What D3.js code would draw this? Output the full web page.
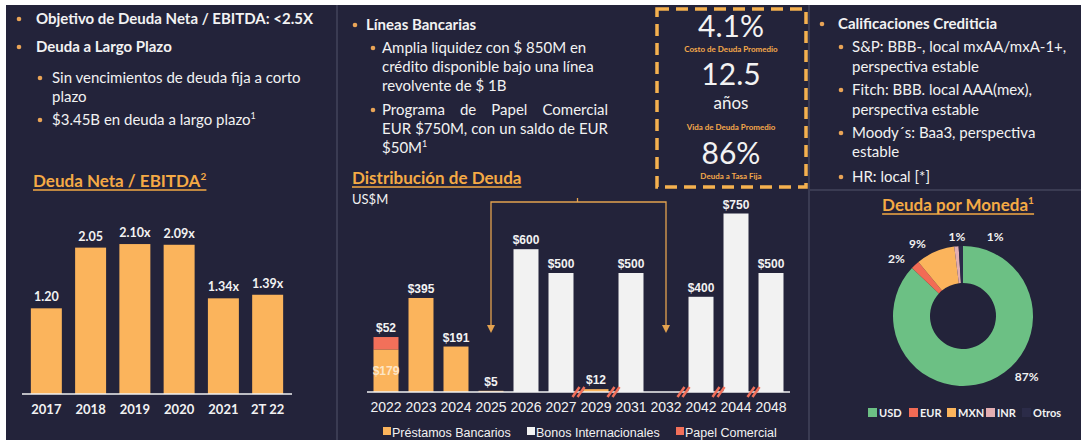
<!DOCTYPE html>
<html>
<head>
<meta charset="utf-8">
<script src="https://cdn.jsdelivr.net/npm/d3@7"></script>
<style>
  body { margin: 0; background: #fff; }
  svg { display: block; }
  text { font-family: Lato, "Open Sans", sans-serif; }
  .arial { font-family: "Liberation Sans", Arial, sans-serif; }
</style>
</head>
<body>
<svg id="chart" width="1081" height="440"></svg>
<script>
// ---- data ----
var ratioYears = ["2017", "2018", "2019", "2020", "2021", "2T 22"];
var ratioValues = [1.20, 2.05, 2.10, 2.09, 1.34, 1.39];
var ratioLabels = ["1.20", "2.05", "2.10x", "2.09x", "1.34x", "1.39x"];

var debtYears = ["2022", "2023", "2024", "2025", "2026", "2027", "2029", "2031", "2032", "2042", "2044", "2048"];
var bankLoans = [179, 395, 191, 5, 0, 0, 12, 0, 0, 0, 0, 0];
var intlBonds = [0, 0, 0, 0, 600, 500, 0, 500, 0, 400, 750, 500];
var commercialPaper = [52, 0, 0, 0, 0, 0, 0, 0, 0, 0, 0, 0];
var breakBefore = ["2029", "2031", "2042", "2044", "2048"];
var debtSeries = ["Préstamos Bancarios", "Bonos Internacionales", "Papel Comercial"];

var currencies = ["USD", "EUR", "MXN", "INR", "Otros"];
var currencyShare = [87, 2, 9, 1, 1];

var kpiValues = ["4.1%", "12.5", "86%"];
var kpiLabels = ["Costo de Deuda Promedio", "Vida de Deuda Promedio", "Deuda a Tasa Fija"];

var bg = "#23233a";
var orange = "#fbb45c";
var titleOrange = "#f5aa45";
var red = "#f2705a";
var white = "#f2f2f2";

var svg = d3.select("#chart");

// background panels
svg.append("rect").attr("x", 6).attr("y", 5).attr("width", 1075).attr("height", 435).attr("fill", bg);
svg.append("line").attr("x1", 337).attr("x2", 337).attr("y1", 5).attr("y2", 440)
    .attr("stroke", "#3a3b52").attr("stroke-width", 2);
svg.append("line").attr("x1", 809).attr("x2", 809).attr("y1", 5).attr("y2", 440)
    .attr("stroke", "#3a3b52").attr("stroke-width", 2);
svg.append("line").attr("x1", 809).attr("x2", 1081).attr("y1", 190).attr("y2", 190)
    .attr("stroke", "#3a3b52").attr("stroke-width", 2);

// bullet text helpers
function bullet(x, y, r) {
    svg.append("circle").attr("cx", x).attr("cy", y).attr("r", r || 2.3).attr("fill", "#e9a457");
}
function line(x, y, str, opts) {
    opts = opts || {};
    var t = svg.append("text").attr("x", x).attr("y", y + 5)
        .attr("fill", white)
        .attr("font-size", opts.size || 15)
        .attr("font-weight", opts.bold ? 700 : 400);
    t.append("tspan").text(str);
    if (opts.sup) {
        t.append("tspan").attr("font-size", 9).attr("dy", -6).text(opts.sup);
    }
    if (opts.justify) {
        // spread the extra room over the word gaps
        var natural = t.node().getComputedTextLength();
        var gaps = str.split(" ").length - 1;
        t.attr("word-spacing", (opts.justify - natural) / gaps);
    }
    return t;
}
function title(x, y, str, sup, anchor) {
    var t = svg.append("text").attr("x", x).attr("y", y)
        .attr("fill", titleOrange).attr("font-size", 17).attr("font-weight", 700)
        .attr("text-anchor", anchor || "start");
    t.append("tspan").text(str);
    if (sup) t.append("tspan").attr("font-size", 10).attr("dy", -7).text(sup);
    var bb = t.node().getBBox();
    svg.append("line").attr("x1", bb.x).attr("x2", bb.x + bb.width)
        .attr("y1", y + 3).attr("y2", y + 3)
        .attr("stroke", titleOrange).attr("stroke-width", 1.5);
}

// ---- left panel text ----
bullet(19, 19); line(36, 19, "Objetivo de Deuda Neta / EBITDA: <2.5X", { bold: true });
bullet(19, 47); line(36, 47, "Deuda a Largo Plazo", { bold: true });
bullet(40, 78); line(52, 78, "Sin vencimientos de deuda fija a corto");
line(52, 97, "plazo");
bullet(40, 120); line(52, 120, "$3.45B en deuda a largo plazo", { sup: "1" });
title(33, 187, "Deuda Neta / EBITDA", "2");

// ---- left bar chart ----
var x1 = d3.scaleBand().domain(ratioYears).range([22, 292]).paddingInner(0.3).paddingOuter(0.2);
var y1 = d3.scaleLinear().domain([0, 2.5]).range([394, 215.5]);

svg.append("g").selectAll("rect").data(ratioValues).enter().append("rect")
    .attr("x", function (d, i) { return x1(ratioYears[i]); })
    .attr("y", function (d) { return y1(d); })
    .attr("width", x1.bandwidth())
    .attr("height", function (d) { return y1(0) - y1(d); })
    .attr("fill", orange);

svg.append("g").selectAll("text").data(ratioValues).enter().append("text")
    .attr("x", function (d, i) { return x1(ratioYears[i]) + x1.bandwidth() / 2; })
    .attr("y", function (d) { return y1(d) - 7; })
    .attr("text-anchor", "middle").attr("fill", white)
    .attr("font-size", 12.5).attr("font-weight", 700)
    .text(function (d, i) { return ratioLabels[i]; });

var ax1 = svg.append("g").attr("transform", "translate(0,394)")
    .call(d3.axisBottom(x1).tickSize(0).tickPadding(11));
ax1.select(".domain").attr("stroke", white).attr("stroke-width", 1.5)
    .attr("d", "M0,0H270").attr("transform", "translate(22,0)");
ax1.selectAll("text").attr("fill", white).attr("font-size", 13).attr("font-weight", 700)
    .style("font-family", "Lato, sans-serif");

// ---- middle text ----
bullet(355, 25); line(366, 25, "Líneas Bancarias", { bold: true });
bullet(373, 48); line(382, 48, "Amplia liquidez con $ 850M en");
line(382, 67, "crédito disponible bajo una línea");
line(382, 86, "revolvente de $ 1B");
bullet(373, 110); line(382, 110, "Programa de Papel Comercial", { justify: 226 });
line(382, 129, "EUR $750M, con un saldo de EUR", { justify: 226 });
line(382, 148, "$50M", { sup: "1" });
title(352, 184, "Distribución de Deuda");
svg.append("text").attr("x", 352).attr("y", 204).attr("fill", white)
    .attr("font-size", 13).text("US$M");

// ---- middle bar chart ----
var x2 = d3.scaleBand().domain(debtYears).range([363, 794]).paddingInner(0.286).paddingOuter(0.3);
var y2 = d3.scaleLinear().domain([0, 800]).range([392, 201.6]);

var rows = debtYears.map(function (yr, i) {
    return { year: yr, bank: bankLoans[i], bonds: intlBonds[i], paper: commercialPaper[i] };
});
var stack = d3.stack().keys(["bank", "bonds", "paper"])(rows);
var seriesColor = { bank: orange, bonds: white, paper: red };

// bracket arrows 2025 -> 2032
var bx0 = x2("2025") + x2.bandwidth() / 2;
var bx1 = x2("2032") + x2.bandwidth() / 2;
var bTop = 202, bBot = 333;
svg.append("path")
    .attr("d", "M" + bx0 + "," + (bBot - 6) + "V" + bTop + "H" + bx1 + "V" + (bBot - 6))
    .attr("fill", "none").attr("stroke", "#e4a24f").attr("stroke-width", 1.3);
svg.append("line").attr("x1", (bx0 + bx1) / 2 - 1).attr("x2", (bx0 + bx1) / 2 - 1)
    .attr("y1", bTop - 4).attr("y2", bTop).attr("stroke", "#e4a24f").attr("stroke-width", 1.3);
[bx0, bx1].forEach(function (bx) {
    svg.append("path")
        .attr("d", "M" + (bx - 4) + "," + (bBot - 8) + "L" + (bx + 4) + "," + (bBot - 8) + "L" + bx + "," + bBot + "Z")
        .attr("fill", "#e4a24f");
});

svg.append("g").selectAll("g").data(stack).enter().append("g")
    .attr("fill", function (s) { return seriesColor[s.key]; })
    .selectAll("rect").data(function (s) { return s; }).enter().append("rect")
    .attr("x", function (d) { return x2(d.data.year); })
    .attr("y", function (d) { return y2(d[1]); })
    .attr("width", x2.bandwidth())
    .attr("height", function (d) { return Math.max(0, y2(d[0]) - y2(d[1])); });

var ax2 = svg.append("g").attr("transform", "translate(0,392)")
    .call(d3.axisBottom(x2).tickSize(0).tickPadding(10));
ax2.select(".domain").attr("stroke", white).attr("stroke-width", 1.5)
    .attr("d", "M0,0H423").attr("transform", "translate(367,0)");
ax2.selectAll("text").attr("fill", white).attr("font-size", 14)
    .style("font-family", "'Liberation Sans', Arial, sans-serif");

// value labels
rows.forEach(function (r) {
    var cx = x2(r.year) + x2.bandwidth() / 2;
    var total = r.bank + r.bonds + r.paper;
    if (total === 0) return;
    if (r.paper > 0) {
        svg.append("text").attr("class", "arial").attr("x", cx).attr("y", y2(total) - 5)
            .attr("text-anchor", "middle").attr("fill", white).attr("font-size", 12).attr("font-weight", 700)
            .text("$" + r.paper);
        svg.append("text").attr("class", "arial").attr("x", cx).attr("y", y2(r.bank / 2) + 4)
            .attr("text-anchor", "middle").attr("fill", "#fde6c6").attr("font-size", 12).attr("font-weight", 700)
            .text("$" + r.bank);
    } else {
        svg.append("text").attr("class", "arial").attr("x", cx).attr("y", y2(total) - 5)
            .attr("text-anchor", "middle").attr("fill", white).attr("font-size", 12).attr("font-weight", 700)
            .text("$" + total);
    }
});

// axis break marks
breakBefore.forEach(function (yr) {
    var gx = x2(yr) - x2.step() * x2.paddingInner() / 2;
    [-2.5, 2.5].forEach(function (o) {
        svg.append("line")
            .attr("x1", gx + o - 3.5).attr("y1", 397)
            .attr("x2", gx + o + 3.5).attr("y2", 387)
            .attr("stroke", red).attr("stroke-width", 2.5);
    });
});

// legend
var legX = [383, 527, 676];
debtSeries.forEach(function (name, i) {
    var c = [orange, white, red][i];
    svg.append("rect").attr("x", legX[i]).attr("y", 427).attr("width", 8).attr("height", 8).attr("fill", c);
    svg.append("text").attr("class", "arial").attr("x", legX[i] + 9).attr("y", 437)
        .attr("fill", white).attr("font-size", 12.5).text(name);
});

// ---- KPI dashed box ----
svg.append("rect").attr("x", 657).attr("y", 9).attr("width", 149).attr("height", 178)
    .attr("fill", bg).attr("stroke", "#f5b14f").attr("stroke-width", 3.5)
    .attr("stroke-dasharray", "12,7");
var kcx = 731;
svg.append("text").attr("x", kcx).attr("y", 37).attr("text-anchor", "middle").attr("fill", white)
    .attr("font-size", 30).text(kpiValues[0]);
svg.append("text").attr("x", kcx).attr("y", 85).attr("text-anchor", "middle").attr("fill", white)
    .attr("font-size", 30).text(kpiValues[1]);
svg.append("text").attr("x", kcx).attr("y", 109).attr("text-anchor", "middle").attr("fill", white)
    .attr("font-size", 17).text("años");
svg.append("text").attr("x", kcx).attr("y", 164).attr("text-anchor", "middle").attr("fill", white)
    .attr("font-size", 30).text(kpiValues[2]);
[52, 130, 179].forEach(function (ty, i) {
    svg.append("text").attr("x", kcx).attr("y", ty).attr("text-anchor", "middle")
        .attr("fill", "#f5a94a").attr("font-size", 8).attr("font-weight", 700).text(kpiLabels[i]);
});

// ---- right text ----
bullet(822, 24); line(838, 24, "Calificaciones Crediticia", { bold: true });
bullet(841, 47); line(852, 47, "S&P: BBB-, local mxAA/mxA-1+,");
line(852, 67, "perspectiva estable");
bullet(841, 90); line(852, 90, "Fitch: BBB. local AAA(mex),");
line(852, 110, "perspectiva estable");
bullet(841, 133); line(852, 133, "Moody´s: Baa3, perspectiva");
line(852, 152, "estable");
bullet(841, 177); line(852, 177, "HR: local [*]");

// ---- donut ----
title(958, 211, "Deuda por Moneda", "1", "middle");
var donutColor = d3.scaleOrdinal().domain(currencies)
    .range(["#6cc084", "#f26b55", "#fbb45c", "#e3aeb2", "#2b2b48"]);
var pie = d3.pie().sort(null)(currencyShare);
var arc = d3.arc().innerRadius(33).outerRadius(70);
var dg = svg.append("g").attr("transform", "translate(963,316)");
dg.selectAll("path").data(pie).enter().append("path")
    .attr("d", arc)
    .attr("fill", function (d, i) { return donutColor(currencies[i]); });

// label angle nudges (degrees) like the original's best-fit placement
var nudge = [-23, -6, -9, 1, 24];
var labelRadius = [88, 88, 85, 79, 85];
pie.forEach(function (d, i) {
    var a = (d.startAngle + d.endAngle) / 2 + nudge[i] * Math.PI / 180;
    dg.append("text")
        .attr("x", Math.sin(a) * labelRadius[i])
        .attr("y", -Math.cos(a) * labelRadius[i] + 4)
        .attr("text-anchor", "middle").attr("fill", white)
        .attr("font-size", 12).attr("font-weight", 700)
        .text(currencyShare[i] + "%");
});

// donut legend
var lx = [868, 909, 947, 986, 1022];
currencies.forEach(function (c, i) {
    svg.append("rect").attr("x", lx[i]).attr("y", 408).attr("width", 9).attr("height", 9)
        .attr("fill", donutColor(c));
    svg.append("text").attr("x", lx[i] + 11).attr("y", 417).attr("fill", white)
        .attr("font-size", 11).attr("font-weight", 700).text(c);
});
</script>
</body>
</html>
